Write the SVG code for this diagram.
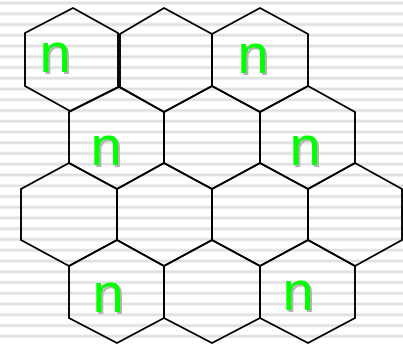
<svg xmlns="http://www.w3.org/2000/svg" width="403" height="345" viewBox="0 0 403 345">
<style>
.hex{fill:none;stroke:#000;stroke-width:1.9;stroke-linejoin:miter}
.lbl{font-family:"Liberation Sans",Arial,sans-serif;font-size:56px;text-anchor:middle}
.sh{fill:#b4b4b4}
.fg{fill:#00ff00}
</style>
<defs>
<pattern id="stripes" x="0" y="0" width="403" height="10.75" patternUnits="userSpaceOnUse">
<rect x="0" y="1.6" width="403" height="2.8" fill="#e0e0e0"/>
</pattern>
</defs>
<rect width="403" height="345" fill="#ffffff"/>
<rect width="403" height="345" fill="url(#stripes)"/>
<g id="hexes">
<g id="hex-r1c1"><polygon class="hex" points="73,8 118,33 118,87 70,111 25,86 25,33"/>
<text class="lbl sh" x="57" y="74">n</text><text class="lbl fg" x="55" y="72">n</text></g>
<g id="hex-r1c2"><polygon class="hex" points="164,8 212,34 212,86 164,112 120,87 120,34"/></g>
<g id="hex-r1c3"><polygon class="hex" points="260,8 308,34 308,86 260,112 212,86 212,34"/>
<text class="lbl sh" x="255" y="75">n</text><text class="lbl fg" x="253" y="73">n</text></g>
<g id="hex-r2c1"><polygon class="hex" points="119,87 164,112 164,163 117,189 69,163 69,112"/>
<text class="lbl sh" x="108" y="167">n</text><text class="lbl fg" x="106" y="165">n</text></g>
<g id="hex-r2c2"><polygon class="hex" points="212,86 260,112 260,163 212,189 164,163 164,112"/></g>
<g id="hex-r2c3"><polygon class="hex" points="308,86 355,112 355,163 308,189 260,163 260,112"/>
<text class="lbl sh" x="307" y="167">n</text><text class="lbl fg" x="305" y="165">n</text></g>
<g id="hex-r3c1"><polygon class="hex" points="69,163 117,189 117,240 69,266 21,240 21,189"/></g>
<g id="hex-r3c2"><polygon class="hex" points="164,163 212,189 212,240 164,266 117,240 117,189"/></g>
<g id="hex-r3c3"><polygon class="hex" points="260,163 308,189 308,240 260,266 212,240 212,189"/></g>
<g id="hex-r3c4"><polygon class="hex" points="355,163 402,189 402,240 355,266 308,240 308,189"/></g>
<g id="hex-r4c1"><polygon class="hex" points="117,240 164,266 164,318 117,343 69,318 69,266"/>
<text class="lbl sh" x="110" y="314">n</text><text class="lbl fg" x="108" y="312">n</text></g>
<g id="hex-r4c2"><polygon class="hex" points="212,240 260,266 260,318 212,343 164,318 164,266"/></g>
<g id="hex-r4c3"><polygon class="hex" points="308,240 355,266 355,318 308,343 260,318 260,266"/>
<text class="lbl sh" x="300" y="312">n</text><text class="lbl fg" x="298" y="310">n</text></g>
</g>
<g id="connectors"></g>
</svg>
